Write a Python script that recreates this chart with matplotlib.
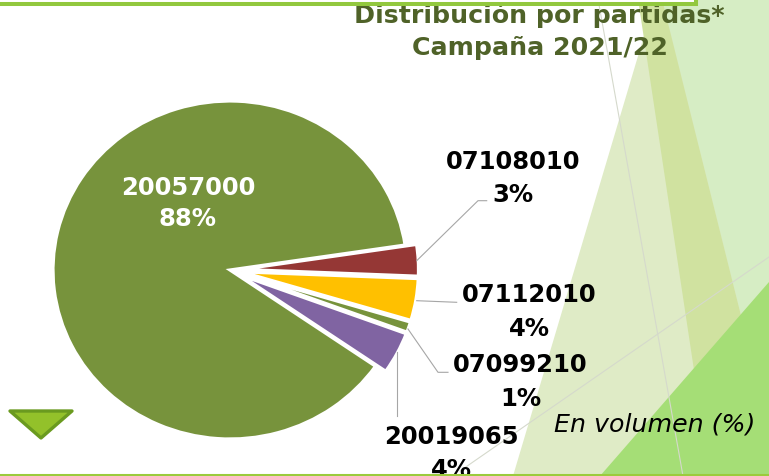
import matplotlib
matplotlib.use("Agg")
import matplotlib.pyplot as plt
from matplotlib.patches import Polygon, Rectangle

# ---------------- data ----------------
codes = ["07108010", "07112010", "07099210", "20019065", "20057000"]
shares = [3, 4, 1, 4, 88]
colors = ["#953735", "#FFC000", "#77933C", "#8064A2", "#77933C"]
title_lines = ["Distribución por partidas*", "Campaña 2021/22"]
note = "En volumen (%)"

# ---------------- layout (pixels, y down) ----------------
W, H = 769, 477
fig = plt.figure(figsize=(W / 100, H / 100), dpi=100)
fig.patch.set_facecolor("white")
plt.rcParams["font.family"] = ["DejaVu Sans"]


def px_axes(z):
    ax = fig.add_axes([0, 0, 1, 1], zorder=z)
    ax.set_xlim(0, W)
    ax.set_ylim(H, 0)
    ax.axis("off")
    ax.patch.set_alpha(0)
    return ax


# background decoration
bg = px_axes(0)
bg.add_patch(Polygon([(513, 477), (655, 0), (769, 0), (769, 477)], closed=True,
                     fc="#DFEBC6", ec="none"))
bg.add_patch(Polygon([(662, 0), (769, 0), (769, 428)], closed=True,
                     fc="#D6EDC4", ec="none"))
bg.add_patch(Polygon([(638, 0), (662, 0), (781, 477), (710, 477)], closed=True,
                     fc="#D0E2A0", ec="none"))
bg.add_patch(Polygon([(600, 477), (769, 283), (769, 477)], closed=True,
                     fc="#A5DE76", ec="none"))
bg.plot([598, 683], [0, 477], color="#D5D9CC", lw=0.8)
bg.plot([460, 769], [472, 258], color="#D5D9CC", lw=0.8)

# pie
cx, cy, sx, sy = 230, 271, 177, 169
lim = 1.3
pax = fig.add_axes([(cx - lim * sx) / W, (H - cy - lim * sy) / H,
                    2 * lim * sx / W, 2 * lim * sy / H], zorder=1)
pax.pie(shares, colors=colors, explode=[0.065, 0.065, 0.065, 0.065, 0.0],
        startangle=8.5, counterclock=False,
        wedgeprops=dict(edgecolor="white", linewidth=2.3))
pax.set_aspect("auto")
pax.set_xlim(-lim, lim)
pax.set_ylim(-lim, lim)
pax.axis("off")
pax.patch.set_alpha(0)

# foreground
fg = px_axes(2)

# title
fg.text(539, 23, title_lines[0], ha="center", va="baseline", fontsize=18.2,
        fontweight="bold", color="#4F6228")
fg.text(540, 55, title_lines[1], ha="center", va="baseline", fontsize=18.2,
        fontweight="bold", color="#4F6228")

# top frame and bottom rule
fg.add_patch(Rectangle((-10, -10), 706, 15, fc="white", ec="#92C83E", lw=2.9, zorder=5))
fg.plot([0, W], [475.5, 475.5], color="#9BCB3C", lw=2.2, zorder=5)

# small down-triangle icon
fg.add_patch(Polygon([(10, 412), (72, 412), (41, 439)], closed=True,
                     fc="#93C12A", ec="#6A9A1F", lw=2.4, joinstyle="round"))

# labels: (x center, line1 center y, line2 center y)
label_pos = [(513, 160, 193), (529.5, 293, 327), (520.5, 363, 397),
             (451.7, 435, 468), (188, 186, 217.5)]
label_col = ["black", "black", "black", "black", "white"]
fs = 17.5
off = 0.365 * fs * 100 / 72
for code, share, (x, y1, y2), c in zip(codes, shares, label_pos, label_col):
    fg.text(x, y1 + off, code, ha="center", va="baseline", fontsize=fs,
            fontweight="bold", color=c)
    fg.text(x, y2 + off, f"{share}%", ha="center", va="baseline", fontsize=fs,
            fontweight="bold", color=c)

# leader lines
leaders = [
    [(416.7, 261.7), (478, 201.7), (486.7, 201.7)],
    [(416.7, 301.7), (456.7, 303.3)],
    [(408, 330), (438, 373.3), (448, 373.3)],
    [(396.7, 353), (396.7, 416.7)],
]
for pts in leaders:
    xs, ys = zip(*pts)
    fg.plot(xs, ys, color="#A6A6A6", lw=0.8)

# note
fg.text(554, 431.7, note, ha="left", va="baseline", fontsize=18.2,
        style="italic", color="black")

fig.savefig("out.png", dpi=100, facecolor="white")
